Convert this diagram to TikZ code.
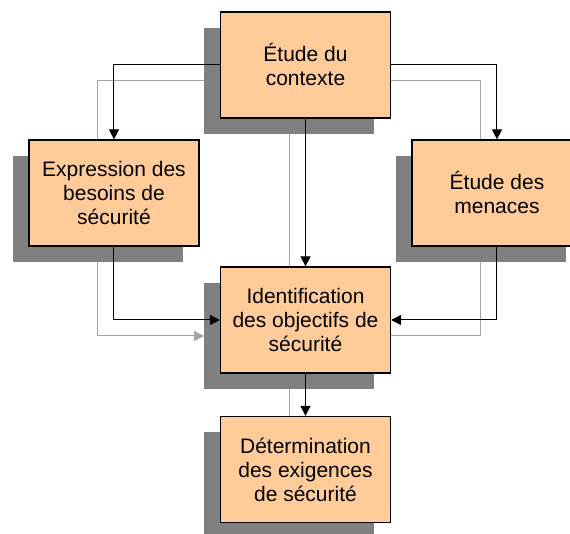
\documentclass[tikz,border=0pt]{standalone}
\usepackage{fontspec}
\setmainfont{Liberation Sans}
\usetikzlibrary{arrows.meta}

\definecolor{peach}{RGB}{255,204,153}
\definecolor{shade}{RGB}{128,128,128}
\definecolor{shadeline}{RGB}{165,165,165}

\begin{document}
\begin{tikzpicture}[
    x=0.5pt, y=-0.5pt,
    % Block styles
    stepbox/.style={
      rectangle, draw=black, line width=0.6pt, fill=peach,
      minimum width=85pt, minimum height=53pt,
      font=\fontsize{10.5}{12}\selectfont, align=center
    },
    shadowbox/.style={
      rectangle, fill=shade,
      minimum width=85pt, minimum height=53pt
    },
    flow/.style={draw=black, line width=0.5pt, -{Triangle[length=5pt, width=5pt]}},
    shadowflow/.style={draw=shadeline, line width=0.5pt, -{Triangle[length=5pt, width=5pt]}},
  ]

  \useasboundingbox (0,0) rectangle (570,534);
  \clip (0,0) rectangle (570,534);

  % === Drop shadows (boxes and links) ===
  \begin{scope}[shift={(-16,16)}]
    \node[shadowbox] (sctx) at (305.5,65) {};
    \node[shadowbox] (sexp) at (114,193) {};
    \node[shadowbox] (smen) at (497,193) {};
    \node[shadowbox] (sobj) at (305.5,320) {};
    \node[shadowbox] (sdet) at (305.5,469.5) {};

    \draw[shadowflow] (sctx.west) -| (sexp.north);
    \draw[shadowflow] (sctx.east) -| (smen.north);
    \draw[shadowflow] (sctx.south) -- (sobj.north);
    \draw[shadowflow] (sexp.south) |- (sobj.west);
    \draw[shadowflow] (smen.south) |- (sobj.east);
    \draw[shadowflow] (sobj.south) -- (sdet.north);
  \end{scope}

  % === Steps ===
  \node[stepbox] (ctx) at (305.5,65) {Étude du\\contexte};
  \node[stepbox] (exp) at (114,193) {Expression des\\besoins de\\sécurité};
  \node[stepbox] (men) at (497,193) {Étude des\\menaces};
  \node[stepbox] (obj) at (305.5,320) {Identification\\des objectifs de\\sécurité};
  \node[stepbox] (det) at (305.5,469.5) {Détermination\\des exigences\\de sécurité};

  % === Links ===
  \draw[flow] (ctx.west) -| (exp.north);
  \draw[flow] (ctx.east) -| (men.north);
  \draw[flow] (ctx.south) -- (obj.north);
  \draw[flow] (exp.south) |- (obj.west);
  \draw[flow] (men.south) |- (obj.east);
  \draw[flow] (obj.south) -- (det.north);

\end{tikzpicture}
\end{document}
